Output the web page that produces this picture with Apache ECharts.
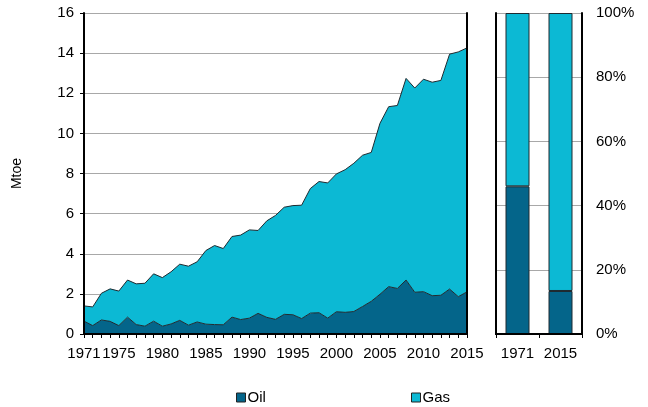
<!DOCTYPE html>
<html>
<head>
<meta charset="utf-8">
<script src="https://cdn.jsdelivr.net/npm/echarts@6/dist/echarts.min.js"></script>
<style>
  html, body { margin: 0; padding: 0; background: #fff; }
  #chart { width: 648px; height: 407px; }
</style>
</head>
<body>
<div id="chart"></div>
<script>
// Annual production, Mtoe
const years = ['1971','1972','1973','1974','1975','1976','1977','1978','1979','1980',
  '1981','1982','1983','1984','1985','1986','1987','1988','1989','1990',
  '1991','1992','1993','1994','1995','1996','1997','1998','1999','2000',
  '2001','2002','2003','2004','2005','2006','2007','2008','2009','2010',
  '2011','2012','2013','2014','2015'];

const oil = [0.64,0.42,0.70,0.63,0.42,0.84,0.47,0.39,0.64,0.39,
  0.50,0.68,0.44,0.60,0.49,0.47,0.46,0.84,0.72,0.79,
  1.03,0.83,0.73,0.98,0.96,0.77,1.04,1.06,0.79,1.11,
  1.08,1.12,1.37,1.63,1.98,2.36,2.27,2.69,2.08,2.11,
  1.91,1.93,2.24,1.86,2.10];

const gas = [0.76,0.93,1.33,1.62,1.72,1.85,2.03,2.14,2.36,2.42,
  2.60,2.80,2.94,3.00,3.67,3.94,3.80,4.02,4.21,4.40,
  4.13,4.81,5.18,5.34,5.44,5.65,6.21,6.54,6.74,6.87,
  7.11,7.39,7.54,7.42,8.52,8.97,9.12,10.05,10.18,10.59,
  10.64,10.71,11.71,12.20,12.16];

// Share of each fuel in the first and last year, %
const shareYears = ['1971','2015'];
const oilShare = [46.0, 13.4];
const gasShare = [54.0, 86.6];

const mtoeTicks = [0, 16, 2];      // min, max, interval
const shareTicks = [0, 100, 20];

const OIL = '#04658a';
const GAS = '#0cb9d4';
const EDGE = '#1e2a30';
const FONT = 'Liberation Sans, Arial, sans-serif';
const frame = { show: true, lineStyle: { color: '#000', width: 2 } };
const grid_line = { show: true, lineStyle: { color: '#a8a8a8', width: 1 } };
const hidden = { show: false };

const chart = echarts.init(document.getElementById('chart'));

// Frame-only axis (drawn above the plotted marks)
function frameY(gridIndex, position, ticks) {
  return {
    type: 'value', gridIndex, position, min: ticks[0], max: ticks[1], z: 5,
    axisLine: frame, axisTick: hidden, axisLabel: hidden, splitLine: hidden
  };
}
// Gridline-only axis (drawn beneath the plotted marks)
function gridY(gridIndex, ticks) {
  return {
    type: 'value', gridIndex, min: ticks[0], max: ticks[1], interval: ticks[2], z: 0,
    axisLine: hidden, axisTick: hidden, axisLabel: hidden, splitLine: grid_line
  };
}

chart.setOption({
  animation: false,
  textStyle: { fontFamily: FONT, color: '#000' },
  grid: [
    { left: 84, top: 13, width: 383, height: 321 },
    { left: 496, top: 13, width: 86, height: 321 }
  ],
  legend: [
    {
      left: 231, top: 385, icon: 'rect', itemWidth: 9, itemHeight: 9,
      textStyle: { fontFamily: FONT, fontSize: 15, color: '#000', padding: [0, 0, 0, -3] },
      data: [{ name: 'Oil', itemStyle: { color: OIL, borderColor: '#222', borderWidth: 1 } }]
    },
    {
      left: 406, top: 385, icon: 'rect', itemWidth: 9, itemHeight: 9,
      textStyle: { fontFamily: FONT, fontSize: 15, color: '#000', padding: [0, 0, 0, -3] },
      data: [{ name: 'Gas', itemStyle: { color: GAS, borderColor: '#222', borderWidth: 1 } }]
    }
  ],
  xAxis: [
    {
      type: 'category', gridIndex: 0, data: years, boundaryGap: false, z: 5,
      axisLine: frame,
      axisTick: { show: true, interval: 0, length: 4, lineStyle: { color: '#000' } },
      axisLabel: {
        fontSize: 15, color: '#000', margin: 12,
        interval: (i, v) => v === '1971' || Number(v) % 5 === 0
      },
      splitLine: hidden
    },
    {
      type: 'category', gridIndex: 1, data: shareYears, z: 5,
      axisLine: frame,
      axisTick: { show: true, length: 4, lineStyle: { color: '#000' } },
      axisLabel: { fontSize: 15, color: '#000', margin: 12, interval: 0 }
    },
    {
      type: 'category', gridIndex: 0, data: years, position: 'top', boundaryGap: false, z: 5,
      axisLine: frame, axisTick: hidden, axisLabel: hidden
    },
    {
      type: 'category', gridIndex: 1, data: shareYears, position: 'top', z: 5,
      axisLine: frame, axisTick: hidden, axisLabel: hidden
    }
  ],
  yAxis: [
    {
      type: 'value', gridIndex: 0, min: mtoeTicks[0], max: mtoeTicks[1], interval: mtoeTicks[2], z: 5,
      name: 'Mtoe', nameLocation: 'middle', nameGap: 60, nameRotate: 90,
      nameTextStyle: { fontFamily: FONT, fontSize: 14, color: '#000' },
      axisLine: frame,
      axisTick: { show: true, length: 4, lineStyle: { color: '#000' } },
      axisLabel: { fontSize: 15, color: '#000', margin: 10 },
      splitLine: hidden
    },
    {
      type: 'value', gridIndex: 1, position: 'right',
      min: shareTicks[0], max: shareTicks[1], interval: shareTicks[2], z: 5,
      axisLine: frame, axisTick: hidden,
      axisLabel: { fontSize: 15, color: '#000', margin: 14, formatter: '{value}%' },
      splitLine: hidden
    },
    frameY(0, 'right', mtoeTicks),
    frameY(1, 'left', shareTicks),
    gridY(0, mtoeTicks),
    gridY(1, shareTicks)
  ],
  series: [
    {
      name: 'Oil', type: 'line', xAxisIndex: 0, yAxisIndex: 0, stack: 'mtoe', data: oil,
      symbol: 'none', color: OIL,
      lineStyle: { color: EDGE, width: 1 },
      areaStyle: { color: OIL, opacity: 1 }
    },
    {
      name: 'Gas', type: 'line', xAxisIndex: 0, yAxisIndex: 0, stack: 'mtoe', data: gas,
      symbol: 'none', color: GAS,
      lineStyle: { color: EDGE, width: 1 },
      areaStyle: { color: GAS, opacity: 1 }
    },
    {
      name: 'Oil', type: 'bar', xAxisIndex: 1, yAxisIndex: 1, stack: 'share', data: oilShare,
      barWidth: 24, color: OIL,
      itemStyle: { color: OIL, borderColor: EDGE, borderWidth: 1 }
    },
    {
      name: 'Gas', type: 'bar', xAxisIndex: 1, yAxisIndex: 1, stack: 'share', data: gasShare,
      barWidth: 24, color: GAS,
      itemStyle: { color: GAS, borderColor: EDGE, borderWidth: 1 }
    }
  ]
});
</script>
</body>
</html>
